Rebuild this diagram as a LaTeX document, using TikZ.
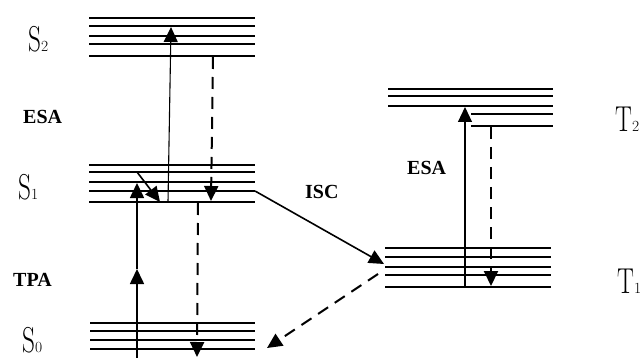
\documentclass[tikz,border=0pt]{standalone}
\usepackage{fontspec}
\newfontfamily\timesfont{Liberation Serif}
\usetikzlibrary{arrows.meta}
\tikzset{
  level/.style={line width=2.2pt},
  tip/.style={-{Triangle[length=15pt,width=14pt]}},
  arr/.style={line width=1.6pt,tip},
  thinarr/.style={line width=1.1pt,tip},
  dasharr/.style={line width=2pt,dash pattern=on 12pt off 8pt,tip},
  statelab/.style={inner sep=0pt,anchor=base west},
  proclab/.style={inner sep=0pt,anchor=base west,font=\timesfont\bfseries\fontsize{20}{20}\selectfont},
}
\newcommand{\stlab}[2]{\scalebox{0.7}[1]{\fontsize{36}{36}\selectfont #1}{\fontsize{15.5}{15.5}\selectfont #2}}
\begin{document}
\begin{tikzpicture}[x=1pt,y=-1pt]
\useasboundingbox (0,0) rectangle (642,358);
% S2 levels
\foreach \y in {18,26,36,44,56} \draw[level] (89,\y) -- (255,\y);
% S1 levels
\foreach \y in {165,172,182,191,202} \draw[level] (89,\y) -- (255,\y);
% S0 levels
\foreach \y in {323,331,340,349} \draw[level] (90,\y) -- (255,\y);
% T2 levels
\foreach \y in {89,96,106} \draw[level] (388,\y) -- (553,\y);
\foreach \y in {114,126} \draw[level] (471,\y) -- (553,\y);
% T1 levels
\foreach \y in {248,257,267,275,287} \draw[level] (385,\y) -- (551,\y);

% coordinates
\coordinate (tpaStart) at (137,362);
\coordinate (tpaMid) at (137,269);
\coordinate (tpaEnd) at (137,183);
\coordinate (relaxStart) at (137,172);
\coordinate (relaxEnd) at (160,202);
\coordinate (esaSStart) at (168,202);
\coordinate (esaSEnd) at (171,27);
\coordinate (decS2Start) at (213,57);
\coordinate (decS2End) at (211,201);
\coordinate (decS1Start) at (198,203);
\coordinate (decS1End) at (197,357);
\coordinate (iscStart) at (255,191);
\coordinate (iscEnd) at (384,264);
\coordinate (decT1Start) at (378,274);
\coordinate (decT1End) at (267,348);
\coordinate (esaTStart) at (465,287);
\coordinate (esaTEnd) at (465,107);
\coordinate (decT2Start) at (491,127);
\coordinate (decT2End) at (491,286);

% arrows
\draw[arr] (tpaStart) -- (tpaMid);
\draw[arr] (tpaMid) -- (tpaEnd);
\draw[arr] (relaxStart) -- (relaxEnd);
\draw[thinarr] (esaSStart) -- (esaSEnd);
\draw[dasharr] (decS2Start) -- (decS2End);
\draw[dasharr] (decS1Start) -- (decS1End);
\draw[arr] (iscStart) -- (iscEnd);
\draw[dasharr] (decT1Start) -- (decT1End);
\draw[thinarr] (esaTStart) -- (esaTEnd);
\draw[dasharr] (decT2Start) -- (decT2End);

% labels
\node[statelab] (s2) at (28,52) {\stlab{S}{2}};
\node[statelab] (s1) at (18,200) {\stlab{S}{1}};
\node[statelab] (s0) at (22,352) {\stlab{S}{0}};
\node[statelab] (t2) at (615,132) {\stlab{T}{2}};
\node[statelab] (t1) at (617,293) {\stlab{T}{1}};
\node[proclab] (esa1) at (23,124) {ESA};
\node[proclab] (tpa) at (13,286) {TPA};
\node[proclab] (isc) at (305,198) {ISC};
\node[proclab] (esa2) at (407,175) {ESA};
\end{tikzpicture}
\end{document}
